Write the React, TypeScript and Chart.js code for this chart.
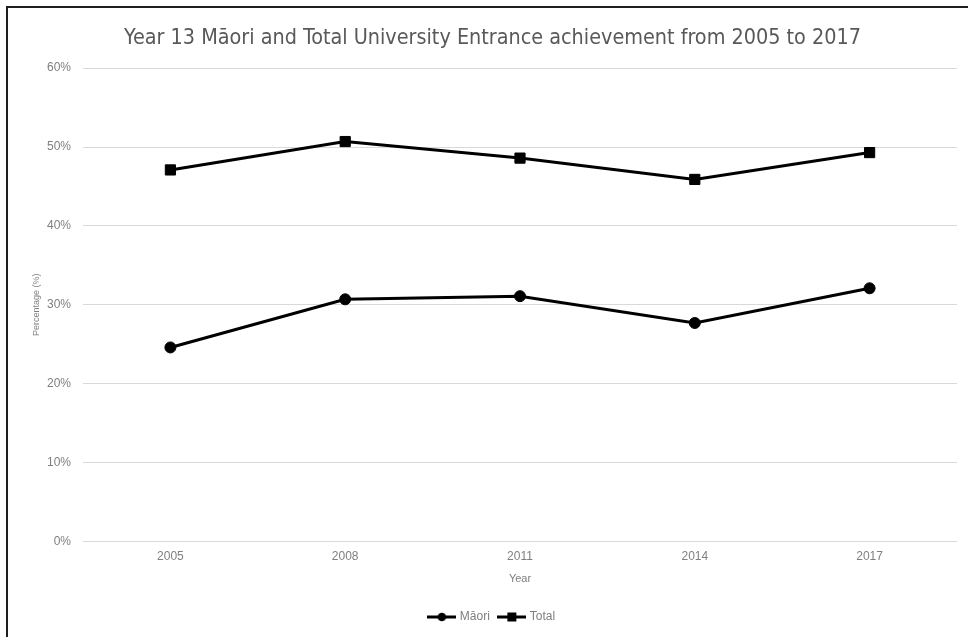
import React, { useEffect, useRef } from "react";
import { Chart, registerables } from "chart.js";

Chart.register(...registerables);

const years = ["2005", "2008", "2011", "2014", "2017"];
const maoriValues = [24.6, 30.7, 31.1, 27.7, 32.1];
const totalValues = [47.1, 50.7, 48.6, 45.9, 49.3];
const seriesNames = ["Māori", "Total"];
const titleText = "Year 13 Māori and Total University Entrance achievement from 2005 to 2017";

const TICK_FONT = "'Liberation Sans', Arial, sans-serif";
const GREY = "#7f7f7f";

// Small line-with-marker swatch used as the legend symbol
function legendSwatch(shape: "circle" | "rect"): HTMLCanvasElement {
  const c = document.createElement("canvas");
  c.width = 29;
  c.height = 12;
  const ctx = c.getContext("2d")!;
  ctx.strokeStyle = "#000";
  ctx.lineWidth = 3;
  ctx.beginPath();
  ctx.moveTo(0, 6);
  ctx.lineTo(29, 6);
  ctx.stroke();
  ctx.fillStyle = "#000";
  if (shape === "circle") {
    ctx.beginPath();
    ctx.arc(14.5, 6, 4.3, 0, Math.PI * 2);
    ctx.fill();
  } else {
    ctx.fillRect(10, 1.5, 9, 9);
  }
  return c;
}

export default function App() {
  const canvasRef = useRef<HTMLCanvasElement | null>(null);

  useEffect(() => {
    if (!canvasRef.current) return;
    const swatches = [legendSwatch("circle"), legendSwatch("rect")];
    const chart = new Chart(canvasRef.current, {
      type: "line",
      data: {
        labels: years,
        datasets: [
          {
            label: seriesNames[0],
            data: maoriValues,
            borderColor: "#000",
            backgroundColor: "#000",
            borderWidth: 3,
            pointStyle: "circle",
            pointRadius: 5.5,
            pointBorderWidth: 1,
            tension: 0,
          },
          {
            label: seriesNames[1],
            data: totalValues,
            borderColor: "#000",
            backgroundColor: "#000",
            borderWidth: 3,
            pointStyle: "rect",
            pointRadius: 7.2,
            pointBorderWidth: 1,
            tension: 0,
          },
        ],
      },
      options: {
        responsive: false,
        animation: false,
        layout: { padding: { left: 20, right: 11, top: 0, bottom: 4 } },
        plugins: {
          tooltip: { enabled: false },
          title: {
            display: true,
            text: titleText,
            color: "#595959",
            font: { family: "'Liberation Sans Narrow', 'DejaVu Sans Condensed', sans-serif", size: 21.4, weight: "normal" },
            padding: { top: 18, bottom: 16.5 },
          },
          legend: {
            position: "bottom",
            labels: {
              usePointStyle: true,
              pointStyleWidth: 24,
              color: GREY,
              font: { family: TICK_FONT, size: 12 },
              padding: 10,
              generateLabels: (ch: any) =>
                ch.data.datasets.map((ds: any, i: number) => ({
                  text: ds.label,
                  pointStyle: swatches[i],
                  fillStyle: "#000",
                  strokeStyle: "#000",
                  lineWidth: 0,
                  hidden: false,
                  datasetIndex: i,
                  fontColor: GREY,
                })),
            },
          },
        },
        scales: {
          x: {
            offset: true,
            grid: { display: false, drawTicks: false },
            border: { display: false },
            ticks: { color: GREY, font: { family: TICK_FONT, size: 12 }, padding: 8 },
            title: {
              display: true,
              text: "Year",
              color: GREY,
              font: { family: TICK_FONT, size: 11 },
              padding: { top: 4, bottom: 15.6 },
            },
            afterFit: (scale: any) => {
              scale.height = 59.5;
            },
          },
          y: {
            min: 0,
            max: 60,
            ticks: {
              stepSize: 10,
              color: GREY,
              font: { family: TICK_FONT, size: 12 },
              padding: 12,
              callback: (v: any) => v + "%",
            },
            grid: { color: "#d9d9d9", lineWidth: 1, drawTicks: false },
            border: { display: false },
            title: {
              display: true,
              text: "Percentage (%)",
              color: GREY,
              font: { family: TICK_FONT, size: 9 },
              padding: { top: 3, bottom: 0 },
            },
            afterFit: (scale: any) => {
              scale.width = 55;
            },
          },
        },
      },
    });
    return () => chart.destroy();
  }, []);

  return (
    <div
      style={{
        position: "fixed",
        left: 0,
        top: 0,
        width: 968,
        height: 637,
        background: "#fff",
        overflow: "hidden",
      }}
    >
      <div
        style={{
          position: "absolute",
          left: 6,
          top: 6,
          width: 980,
          height: 650,
          borderLeft: "2px solid #1e1e1e",
          borderTop: "2px solid #1e1e1e",
        }}
      >
        <canvas ref={canvasRef} width={960} height={629} style={{ display: "block" }} />
      </div>
    </div>
  );
}
